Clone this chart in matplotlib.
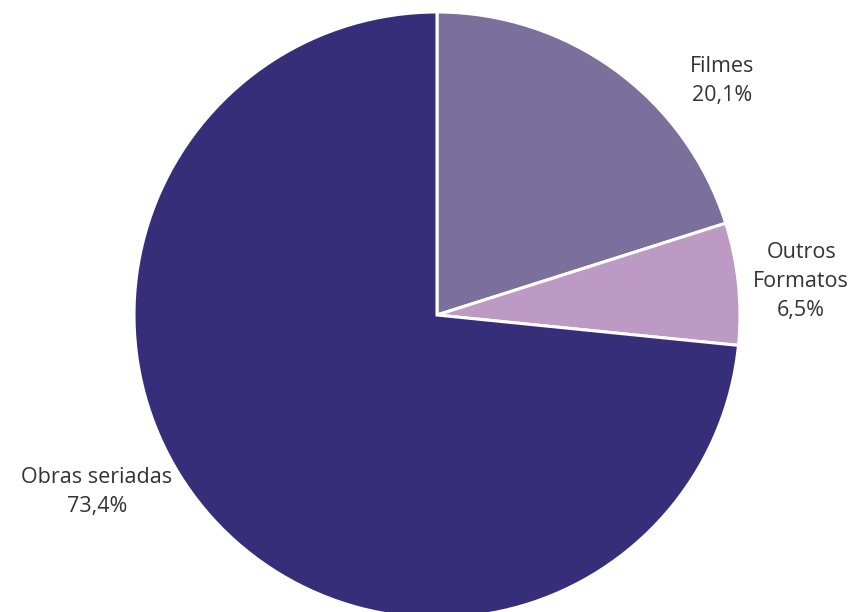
import matplotlib.pyplot as plt

labels = ["Filmes", "Outros\nFormatos", "Obras seriadas"]
values = [20.1, 6.5, 73.4]
colors = ["#7b6f9c", "#bd9ac4", "#372e7a"]
# label anchor points, in units of the pie radius
label_pos = [(0.941, 0.772), (1.202, 0.112), (-1.122, -0.584)]

plt.rcParams["font.family"] = ["Open Sans", "DejaVu Sans"]

fig = plt.figure(figsize=(8.55, 6.12), dpi=100)
ax = fig.add_axes([0, 0, 1, 1])

ax.pie(values, colors=colors, startangle=90, counterclock=False,
       radius=1, wedgeprops=dict(edgecolor="white", linewidth=2.2))

for lab, val, (x, y) in zip(labels, values, label_pos):
    txt = lab + "\n" + f"{val:.1f}".replace(".", ",") + "%"
    ax.text(x, y, txt, ha="center", va="center", fontsize=15.5,
            color="#333333", linespacing=1.5)

r = 303
ax.set_xlim(-437 / r, (855 - 437) / r)
ax.set_ylim(-297 / r, 315 / r)
ax.set_aspect("auto")
ax.axis("off")

fig.savefig("out.png", dpi=100)
